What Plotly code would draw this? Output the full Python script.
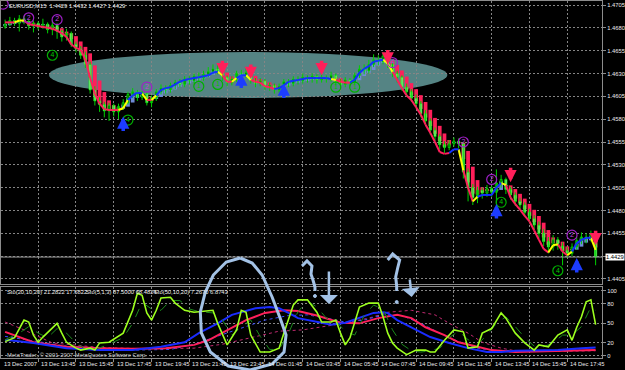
import plotly.graph_objects as go
from plotly.subplots import make_subplots

# ---------------- data (EURUSD M15, bar 0 = 13 Dec 2007 12:00) ----------------
bar_index = list(range(126))
open_ = [1.4681,1.4684,1.4688,1.4685,1.4690,1.4687,1.4682,1.4685,1.4681,1.4684,
         1.4678,1.4683,1.4676,1.4670,1.4674,1.4662,1.4657,1.4650,1.4640,1.4612,
         1.4600,1.4596,1.4589,1.4595,1.4588,1.4594,1.4598,1.4607,1.4610,1.4604,
         1.4608,1.4598,1.4603,1.4610,1.4614,1.4612,1.4617,1.4620,1.4618,1.4624,
         1.4622,1.4627,1.4625,1.4629,1.4632,1.4635,1.4633,1.4626,1.4620,1.4624,
         1.4630,1.4628,1.4631,1.4622,1.4619,1.4622,1.4615,1.4617,1.4612,1.4616,
         1.4621,1.4619,1.4624,1.4622,1.4626,1.4624,1.4627,1.4623,1.4626,1.4624,
         1.4628,1.4621,1.4618,1.4623,1.4620,1.4628,1.4635,1.4633,1.4640,1.4645,
         1.4643,1.4649,1.4640,1.4630,1.4626,1.4615,1.4610,1.4603,1.4597,1.4586,
         1.4578,1.4568,1.4561,1.4552,1.4549,1.4553,1.4556,1.4553,1.4522,1.4505,
         1.4494,1.4502,1.4499,1.4504,1.4500,1.4510,1.4514,1.4503,1.4497,1.4490,
         1.4486,1.4478,1.4471,1.4464,1.4455,1.4446,1.4440,1.4448,1.4441,1.4436,
         1.4433,1.4440,1.4447,1.4451,1.4449,1.4452]
high = [1.4689,1.4692,1.4691,1.4694,1.4693,1.4689,1.4688,1.4687,1.4690,1.4686,
        1.4688,1.4685,1.4678,1.4679,1.4676,1.4665,1.4660,1.4654,1.4643,1.4616,
        1.4604,1.4599,1.4598,1.4597,1.4597,1.4602,1.4610,1.4614,1.4612,1.4611,
        1.4610,1.4606,1.4613,1.4618,1.4617,1.4620,1.4623,1.4624,1.4627,1.4627,
        1.4630,1.4631,1.4633,1.4637,1.4640,1.4641,1.4636,1.4628,1.4627,1.4633,
        1.4634,1.4636,1.4633,1.4625,1.4625,1.4624,1.4620,1.4619,1.4619,1.4624,
        1.4624,1.4627,1.4627,1.4630,1.4628,1.4630,1.4629,1.4629,1.4628,1.4632,
        1.4630,1.4624,1.4626,1.4625,1.4631,1.4639,1.4640,1.4645,1.4651,1.4650,
        1.4653,1.4652,1.4643,1.4633,1.4628,1.4619,1.4613,1.4607,1.4600,1.4590,
        1.4581,1.4571,1.4564,1.4556,1.4557,1.4560,1.4559,1.4555,1.4526,1.4509,
        1.4506,1.4505,1.4508,1.4507,1.4525,1.4519,1.4516,1.4506,1.4500,1.4494,
        1.4489,1.4482,1.4475,1.4468,1.4460,1.4451,1.4453,1.4451,1.4445,1.4440,
        1.4444,1.4451,1.4456,1.4455,1.4458,1.4457]
low = [1.4679,1.4682,1.4682,1.4676,1.4684,1.4678,1.4675,1.4678,1.4679,1.4674,
       1.4672,1.4668,1.4665,1.4666,1.4659,1.4653,1.4646,1.4636,1.4608,1.4595,
       1.4588,1.4582,1.4578,1.4583,1.4580,1.4590,1.4596,1.4603,1.4600,1.4601,
       1.4595,1.4593,1.4600,1.4607,1.4608,1.4609,1.4613,1.4615,1.4615,1.4618,
       1.4619,1.4621,1.4622,1.4626,1.4629,1.4629,1.4622,1.4616,1.4617,1.4621,
       1.4624,1.4625,1.4619,1.4615,1.4616,1.4612,1.4611,1.4608,1.4609,1.4613,
       1.4615,1.4616,1.4618,1.4619,1.4620,1.4620,1.4619,1.4620,1.4620,1.4621,
       1.4617,1.4614,1.4615,1.4616,1.4618,1.4625,1.4629,1.4630,1.4637,1.4639,
       1.4640,1.4636,1.4626,1.4620,1.4611,1.4605,1.4599,1.4592,1.4582,1.4573,
       1.4563,1.4556,1.4547,1.4543,1.4546,1.4550,1.4548,1.4515,1.4490,1.4486,
       1.4488,1.4493,1.4495,1.4495,1.4478,1.4505,1.4498,1.4492,1.4485,1.4481,
       1.4473,1.4466,1.4459,1.4450,1.4441,1.4433,1.4436,1.4437,1.4420,1.4428,
       1.4430,1.4437,1.4443,1.4444,1.4446,1.4420]
close = [1.4684,1.4688,1.4685,1.4690,1.4687,1.4682,1.4685,1.4681,1.4684,1.4678,
         1.4683,1.4676,1.4670,1.4674,1.4662,1.4657,1.4650,1.4640,1.4612,1.4600,
         1.4596,1.4589,1.4595,1.4588,1.4594,1.4598,1.4607,1.4610,1.4604,1.4608,
         1.4598,1.4603,1.4610,1.4614,1.4612,1.4617,1.4620,1.4618,1.4624,1.4622,
         1.4627,1.4625,1.4629,1.4632,1.4635,1.4633,1.4626,1.4620,1.4624,1.4630,
         1.4628,1.4631,1.4622,1.4619,1.4622,1.4615,1.4617,1.4612,1.4616,1.4621,
         1.4619,1.4624,1.4622,1.4626,1.4624,1.4627,1.4623,1.4626,1.4624,1.4628,
         1.4621,1.4618,1.4623,1.4620,1.4628,1.4635,1.4633,1.4640,1.4645,1.4643,
         1.4649,1.4640,1.4630,1.4626,1.4615,1.4610,1.4603,1.4597,1.4586,1.4578,
         1.4568,1.4561,1.4552,1.4549,1.4553,1.4556,1.4553,1.4522,1.4505,1.4494,
         1.4502,1.4499,1.4504,1.4500,1.4510,1.4514,1.4503,1.4497,1.4490,1.4486,
         1.4478,1.4471,1.4464,1.4455,1.4446,1.4440,1.4448,1.4441,1.4436,1.4433,
         1.4440,1.4447,1.4451,1.4449,1.4454,1.4429]
trend_line = [1.4686,1.4686,1.4686,1.4688,1.4688,1.4684,1.4683,1.4682,1.4681,1.4680,
              1.4679,1.4677,1.4674,1.4670,1.4662,1.4658,1.4656,1.4645,1.4625,1.4608,
              1.4597,1.4591,1.4590,1.4590,1.4590,1.4592,1.4601,1.4606,1.4609,1.4608,
              1.4601,1.4601,1.4606,1.4612,1.4614,1.4615,1.4618,1.4621,1.4623,1.4624,
              1.4625,1.4626,1.4627,1.4628,1.4631,1.4632,1.4628,1.4621,1.4621,1.4625,
              1.4628,1.4628,1.4623,1.4621,1.4620,1.4616,1.4615,1.4613,1.4614,1.4617,
              1.4621,1.4622,1.4623,1.4624,1.4625,1.4625,1.4625,1.4625,1.4625,1.4624,
              1.4623,1.4621,1.4620,1.4620,1.4623,1.4631,1.4635,1.4638,1.4643,1.4644,
              1.4645,1.4641,1.4632,1.4623,1.4614,1.4606,1.4601,1.4593,1.4585,1.4574,
              1.4565,1.4555,1.4544,1.4542,1.4543,1.4547,1.4547,1.4524,1.4505,1.4490,
              1.4495,1.4497,1.4497,1.4497,1.4505,1.4510,1.4508,1.4494,1.4487,1.4481,
              1.4474,1.4468,1.4458,1.4448,1.4438,1.4434,1.4442,1.4443,1.4435,1.4431,
              1.4435,1.4444,1.4448,1.4450,1.4450,1.4437]
trend_state = ("rrryy" "rrrrrrrrrrrrrrrrrrrr" "yybbbyry" "bbbbbbbbbbbbb" "yrrybby"
               "rrrrr" "bbbbbbbbbbbb" "yrrr" "bbbbbbb" "yy" "rrrrrrrrrrrr" "bbyrry"
               "bbbbby" "rrrrrrrrr" "yyrry" "bbbby")

# signal marks on the price chart
circ_x = [-0.4, 5, 11, 10, 26, 30, 41, 45, 70, 74, 82, 97, 103, 105, 120, 117]
circ_y = [1.4706, 1.4691, 1.4689, 1.4650, 1.4579, 1.4615, 1.4616, 1.4618, 1.4615,
          1.4615, 1.4642, 1.4555, 1.4514, 1.4489, 1.4453, 1.4414]
circ_txt = ['', '2', '2', '4', '4', '2', '1', '1', '1', '1', '4', '2', '2', '4', '2', '4']
circ_kind = ['p', 'p', 'p', 'g', 'g', 'p', 'g', 'g', 'g', 'g', 'p', 'p', 'p', 'g', 'p', 'g']
up_x = [25, 50, 59, 104, 121]
up_y = [1.4583, 1.4630, 1.4619, 1.4487, 1.4428]
down_x = [46, 52, 67, 81, 107, 125]
down_y = [1.4628, 1.4624, 1.4628, 1.4640, 1.4511, 1.4442]

# stochastic oscillators (lower window)
sto5_x = [0,2,4,5,6,7,8,10,11,12,13,15,16,18,19,20,22,25,27,28,29,30,31,32,33,35,36,38,40,44,
          45,47,49,50,51,52,54,56,58,59,61,62,64,66,67,69,70,71,72,73,74,75,77,79,80,81,82,83,
          85,87,89,90,91,93,95,97,98,100,101,103,105,106,108,110,112,113,115,117,119,120,121,
          122,123,124,125]
sto5_v = [22,28,55,52,32,21,29,44,50,35,21,12,9,12,9,20,21,35,70,96,93,66,55,70,89,90,81,70,67,70,
          50,17,40,70,67,32,6,6,12,35,78,86,86,67,52,52,55,35,17,28,50,75,81,81,60,35,20,12,
          2,9,9,6,6,24,40,37,12,14,35,42,66,58,35,20,9,17,14,32,40,24,44,60,83,86,48]
sig5_x = [0,3,5,7,9,11,13,15,17,19,21,23,25,27,29,31,33,35,37,39,41,44,46,48,50,52,54,56,58,60,
          62,64,66,68,70,72,74,76,78,80,82,84,86,88,90,92,94,96,98,100,102,104,106,108,110,112,
          114,116,118,120,122,124,125]
sig5_v = [25,35,45,35,28,42,35,20,10,10,15,22,28,50,82,72,70,85,85,72,68,66,55,32,45,55,30,10,10,35,
          68,84,75,58,53,38,32,62,78,72,40,18,8,6,8,12,28,38,25,18,32,50,60,45,28,15,
          14,20,32,32,45,75,70]
sto20_x = [0,1,6,13,20,27,33,38,41,45,48,53,56,58,60,62,67,69,72,75,78,80,81,83,87,90,94,98,102,
           105,108,112,117,122,125]
sto20_v = [24,24,20,12,9,9,14,21,35,50,63,73,75,73,66,58,51,48,51,58,66,67,66,55,40,29,20,12,6,
           6,8,8,9,12,13]
sig20_x = [0,13,27,35,40,45,50,55,60,64,68,72,76,80,84,88,92,96,100,104,110,118,125]
sig20_v = [30,15,9,10,18,30,42,55,62,63,58,52,55,63,62,50,35,22,12,8,8,9,13]
sto50_x = [0,3,6,10,13,20,27,34,40,43,47,51,55,59,62,66,71,75,79,83,86,89,93,96,100,103,108,116,125]
sto50_v = [37,29,21,17,14,12,11,12,17,24,40,55,66,70,69,62,51,50,58,63,58,44,32,21,14,9,6,7,9]
sig50_x = [0,4,10,20,30,40,46,52,58,63,66,70,77,81,86,91,94,98,101,105,108,115,125]
sig50_v = [52,40,20,13,11,12,18,28,38,40,43,48,58,67,70,63,50,35,21,12,8,7,8]

tick_idx = [7, 15, 23, 31, 39, 47, 55, 63, 71, 79, 87, 95, 103, 111, 119]
tick_labels = ["13 Dec 13:45", "13 Dec 15:45", "13 Dec 17:45", "13 Dec 19:45", "13 Dec 21:45",
               "13 Dec 23:45", "14 Dec 01:45", "14 Dec 03:45", "14 Dec 05:45", "14 Dec 07:45",
               "14 Dec 09:45", "14 Dec 11:45", "14 Dec 13:45", "14 Dec 15:45", "14 Dec 17:45"]
price_ticks = [1.4405, 1.4455, 1.4480, 1.4505, 1.4530, 1.4555, 1.4580, 1.4605,
               1.4630, 1.4655, 1.4680, 1.4705]
price_grid = [1.4405, 1.4430, 1.4455, 1.4480, 1.4505, 1.4530, 1.4555, 1.4580, 1.4605,
              1.4630, 1.4655, 1.4680, 1.4705]
osc_ticks = [0, 20, 50, 80, 100]

# ---------------- styling ----------------
FONT = "Liberation Sans"
FS = 5.8
TXT = "#ececec"
PINK = "#ff1f5a"
BLUE_HA = "#6f8ad6"
LIME = "#00ff00"
DRAW = "#a3c2e6"
PW, PH, PBOT = 603.0, 357.0, 358.0

def pp(x, y):
    return x / PW, (PBOT - y) / PH

fig = make_subplots(rows=2, cols=1)

# Heiken Ashi bodies (derived from OHLC)
ha_close = [(o + h + l + c) / 4 for o, h, l, c in zip(open_, high, low, close)]
ha_open = [(open_[0] + close[0]) / 2]
for k in range(1, len(close)):
    ha_open.append((ha_open[-1] + ha_close[k - 1]) / 2)
fig.add_trace(go.Bar(x=bar_index, base=ha_open, y=[c - o for o, c in zip(ha_open, ha_close)],
                     width=0.8,
                     marker=dict(color=[PINK if c < o else BLUE_HA for o, c in zip(ha_open, ha_close)],
                                 line=dict(width=0))), row=1, col=1)

# candle wicks
wx, wy = [], []
for i, h, l in zip(bar_index, high, low):
    wx += [i, i, None]
    wy += [l, h, None]
fig.add_trace(go.Scatter(x=wx, y=wy, mode="lines", line=dict(color="#00d000", width=1)), row=1, col=1)
# candle bodies (bear = white, bull = black with green border)
fig.add_trace(go.Bar(x=bar_index, base=[min(o, c) for o, c in zip(open_, close)],
                     y=[max(abs(c - o), 0.00004) for o, c in zip(open_, close)], width=0.45,
                     marker=dict(color=["white" if c < o else "black" for o, c in zip(open_, close)],
                                 line=dict(color=LIME, width=0.7))), row=1, col=1)

# colored trend line
seg_cols = {"r": PINK, "y": "#ffff00", "b": "#1030ff"}
for key, col in seg_cols.items():
    sx, sy = [], []
    for k in range(len(trend_line) - 1):
        if trend_state[k + 1] == key:
            sx += [bar_index[k], bar_index[k + 1], None]
            sy += [trend_line[k], trend_line[k + 1], None]
    fig.add_trace(go.Scatter(x=sx, y=sy, mode="lines", line=dict(color=col, width=2)), row=1, col=1)

# circled numbers
kind_line = {'p': "#a020c8", 'g': "#00b000"}
kind_text = {'p': "#c040e0", 'g': "#00c800"}
fig.add_trace(go.Scatter(x=circ_x, y=circ_y, mode="markers+text", text=circ_txt,
                         textposition="middle center",
                         textfont=dict(family=FONT, size=7, color=[kind_text[k] for k in circ_kind]),
                         marker=dict(symbol="circle-open", size=10, line=dict(width=1.2),
                                     color=[kind_line[k] for k in circ_kind])), row=1, col=1)

# oscillators
fig.add_trace(go.Scatter(x=sig50_x, y=sig50_v, mode="lines", line=dict(color="#c02a70", width=1, dash="dot")), row=2, col=1)
fig.add_trace(go.Scatter(x=sig20_x, y=sig20_v, mode="lines", line=dict(color="#3a50ff", width=1, dash="dot")), row=2, col=1)
fig.add_trace(go.Scatter(x=sto50_x, y=sto50_v, mode="lines", line=dict(color=PINK, width=2)), row=2, col=1)
fig.add_trace(go.Scatter(x=sto20_x, y=sto20_v, mode="lines", line=dict(color="#1a2cff", width=2)), row=2, col=1)
fig.add_trace(go.Scatter(x=sig5_x, y=sig5_v, mode="lines", line=dict(color="#1c8a1c", width=1, dash="dash")), row=2, col=1)
fig.add_trace(go.Scatter(x=sto5_x, y=sto5_v, mode="lines", line=dict(color="#9cff1e", width=1.6)), row=2, col=1)

grid = dict(showgrid=True, gridcolor="#858585", griddash="2px,2px", gridwidth=1)
axis_line = dict(showline=True, linecolor="#8c8c8c", linewidth=1, mirror=True, zeroline=False)
xr = [-0.87, 126.35]
fig.update_layout(
    width=625, height=370, margin=dict(l=0, r=22, t=1, b=12),
    paper_bgcolor="black", plot_bgcolor="black", showlegend=False,
    barmode="overlay", hovermode=False,
    font=dict(family=FONT, size=FS, color=TXT),
    xaxis=dict(range=xr, tickvals=tick_idx, showticklabels=False, ticks="", **grid, **axis_line),
    xaxis2=dict(range=xr, tickvals=tick_idx, showticklabels=False, ticks="outside", ticklen=3,
                tickcolor="#8c8c8c", **grid, **axis_line),
    yaxis=dict(domain=[(PBOT - 284) / PH, 1], side="right", range=[1.43995, 1.47094],
               tickvals=price_grid,
               ticktext=[("%.4f" % v) if v in price_ticks else "" for v in price_grid],
               ticks="outside", ticklen=3, tickcolor="#8c8c8c",
               tickfont=dict(family=FONT, size=FS, color=TXT), **grid, **axis_line),
    yaxis2=dict(domain=[0, (PBOT - 287) / PH], side="right", range=[-3.1, 105.7],
                tickvals=osc_ticks, ticks="outside", ticklen=3, tickcolor="#8c8c8c",
                tickfont=dict(family=FONT, size=FS, color=TXT), **grid, **axis_line),
)

shapes = []
# channel ellipse
shapes.append(dict(type="circle", xref="x", yref="y", x0=9.3, x1=93.6, y0=1.46032, y1=1.46535,
                   fillcolor="#5c8f8f", opacity=0.92, line=dict(width=0), layer="below"))
# current price line
shapes.append(dict(type="line", xref="x", yref="y", x0=xr[0], x1=xr[1], y0=close[-1], y1=close[-1],
                   line=dict(color="#9a9a9a", width=1)))

def path_of(pts):
    s = ""
    for k, (x, y) in enumerate(pts):
        a, b = pp(x, y)
        s += ("M" if k == 0 else " L") + "%.5f,%.5f" % (a, b)
    return s

loop = [(240, 258), (252, 263), (262, 275), (272, 297), (280, 318), (286, 335), (284, 352),
        (272, 364), (250, 370), (228, 366), (210, 352), (201, 333), (200, 312), (205, 292),
        (213, 275), (226, 262), (240, 258)]
q1 = [(302, 266), (307, 261), (312, 266), (311, 274), (313, 280), (315, 287), (315, 291)]
q2 = [(388, 260), (393, 254), (400, 260), (398, 268), (396, 277), (397, 286), (397, 291)]
for pts in (loop, q1, q2):
    shapes.append(dict(type="path", xref="paper", yref="paper", path=path_of(pts),
                       line=dict(color=DRAW, width=3)))
for (cx, cy) in [(315, 296), (397, 302)]:
    a0, b0 = pp(cx - 1.5, cy + 1.5)
    a1, b1 = pp(cx + 1.5, cy - 1.5)
    shapes.append(dict(type="circle", xref="paper", yref="paper", x0=a0, x1=a1, y0=b0, y1=b1,
                       fillcolor=DRAW, line=dict(color=DRAW, width=1)))
fig.update_layout(shapes=shapes)

ann = []
def txt(x, y, s, color=TXT):
    a, b = pp(x, y)
    ann.append(dict(xref="paper", yref="paper", x=a, y=b, text=s, showarrow=False,
                    xanchor="left", yanchor="middle", font=dict(family=FONT, size=FS, color=color)))

txt(6, 6, "EURUSD,M15  1.4429 1.4432 1.4427 1.4429")
txt(4, 292, "Sto(20,10,20) 21.2822 17.6822")
txt(83, 292, "Sto(5,1,3) 87.5000 68.4824")
txt(152, 292, "Sto(50,10,20) 7.2670 6.8743")
txt(4, 355, "MetaTrader, \u00a9 2001-2007 MetaQuotes Software Corp.", color="#cfcfcf")
txt(1, 364, "13 Dec 2007")
for i, lab in zip(tick_idx, tick_labels):
    ann.append(dict(xref="x2", yref="paper", x=i, y=pp(0, 364)[1], text=lab, showarrow=False,
                    xanchor="left", yanchor="middle", xshift=1,
                    font=dict(family=FONT, size=FS, color=TXT)))
# current price box
ann.append(dict(xref="paper", yref="y", x=1.0, y=close[-1], text="%.4f" % close[-1], showarrow=False,
                xanchor="left", yanchor="middle", xshift=3, bgcolor="white", borderpad=0,
                font=dict(family=FONT, size=FS, color="black")))
# hand drawn arrows in the oscillator window
for (hx, hy, tx, ty) in [(329, 304, 329, 270), (412, 297, 410, 278)]:
    a, b = pp(hx, hy)
    ann.append(dict(xref="paper", yref="paper", x=a, y=b, ax=tx - hx, ay=ty - hy, text="",
                    showarrow=True, arrowhead=1, arrowsize=1.2, arrowwidth=2.5, arrowcolor=DRAW))
# signal arrows on price chart
for x, y in zip(up_x, up_y):
    ann.append(dict(xref="x", yref="y", x=x, y=y, ax=0, ay=16, text="", showarrow=True,
                    arrowhead=2, arrowsize=0.7, arrowwidth=3.5, arrowcolor="#1c3cff"))
for x, y in zip(down_x, down_y):
    ann.append(dict(xref="x", yref="y", x=x, y=y, ax=0, ay=-16, text="", showarrow=True,
                    arrowhead=2, arrowsize=0.7, arrowwidth=3.5, arrowcolor=PINK))
fig.update_layout(annotations=ann)

fig.write_html("out.html")
